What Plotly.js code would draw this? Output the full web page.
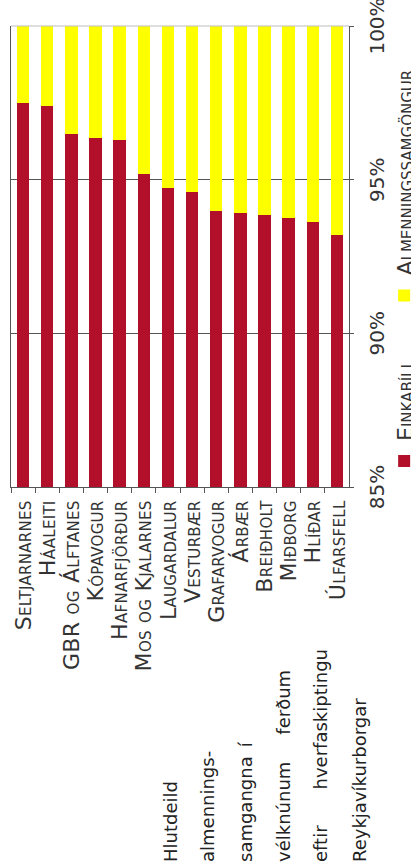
<!DOCTYPE html>
<html>
<head>
<meta charset="utf-8">
<script src="https://cdn.plot.ly/plotly-3.0.1.min.js"></script>
<style>
  html, body { margin:0; padding:0; overflow:hidden; background:#ffffff; width:411px; height:864px; }
  #chart { position:absolute; left:0; top:0; width:864px; height:411px;
           transform-origin:0 0; transform:translate(0px, 864px) rotate(-90deg); }
  #chart .ytick text { letter-spacing:0.3px; }
</style>
</head>
<body>
<div id="chart"></div>
<script>
// ---- data ----
const categories = ['Seltjarnarnes','Háaleiti','GBR og Álftanes','Kópavogur','Hafnarfjörður',
  'Mos og Kjalarnes','Laugardalur','Vesturbær','Grafarvogur','Árbær','Breiðholt','Miðborg','Hlíðar','Úlfarsfell'];
const einkabill = [97.48, 97.41, 96.50, 96.37, 96.30, 95.20, 94.73, 94.60, 93.99, 93.92, 93.85, 93.76, 93.61, 93.19];
const almenningssamgongur = [2.52, 2.59, 3.50, 3.63, 3.70, 4.80, 5.27, 5.40, 6.01, 6.08, 6.15, 6.24, 6.39, 6.81];
const seriesNames = ['Einkabíll', 'Almenningssamgöngur'];
const tickVals = [85, 90, 95, 100];
const tickLabels = ['85%', '90%', '95%', '100%'];
const titleLines = ['Hlutdeild', 'almennings-', 'samgangna\u2002í', 'vélknúnum\u2003\u2002ferðum',
  'eftir\u2003\u2003hverfaskiptingu', 'Reykjavíkurborgar'];

// ---- layout geometry (chart is drawn in its natural landscape frame, then turned by CSS) ----
const W = 864, H = 411, ML = 377, MR = 26, MT = 10.5, MB = 62;
const pw = W - ML - MR, ph = H - MT - MB;
const px2x = X => (X - ML) / pw;
const px2y = Y => (H - MB - Y) / ph;
const titleLineY = [170, 207, 245, 283, 320, 360];

const red = '#B2102A', yellow = '#FFFF00';
const font = 'DejaVu Sans, Verdana, sans-serif';
const legendFont = {family:font, size:22, color:'#333', variant:'small-caps'};

const traces = [
  { type:'bar', orientation:'h', name:seriesNames[0], y:categories, x:einkabill,
    marker:{color:red, line:{width:0}}, hoverinfo:'skip', legend:'legend' },
  { type:'bar', orientation:'h', name:seriesNames[1], y:categories, x:almenningssamgongur,
    marker:{color:yellow, line:{width:0}}, hoverinfo:'skip', legend:'legend2' }
];

const annotations = titleLines.map((t, i) => ({
  text:t, xref:'paper', yref:'paper', x:px2x(0), y:px2y(titleLineY[i]),
  xanchor:'left', yanchor:'middle', showarrow:false, align:'left',
  font:{family:font, size:18, color:'#222'}
}));

const legendBase = {orientation:'h', xanchor:'left', y:px2y(383.4), yanchor:'top',
  itemwidth:30, bgcolor:'rgba(0,0,0,0)', font:legendFont};

const layout = {
  width:W, height:H,
  margin:{l:ML, r:MR, t:MT, b:MB, pad:0, autoexpand:false},
  paper_bgcolor:'#ffffff', plot_bgcolor:'#ffffff',
  barmode:'stack', bargap:0.48,
  showlegend:true,
  legend:Object.assign({}, legendBase, {x:px2x(383)}),
  legend2:Object.assign({}, legendBase, {x:px2x(548.5)}),
  xaxis:{range:[85,100], tickvals:tickVals, ticktext:tickLabels, ticks:'outside', ticklen:4,
    tickcolor:'#555', showline:true, linecolor:'#555', linewidth:1, mirror:true,
    showgrid:true, gridcolor:'#555', gridwidth:1, zeroline:false, fixedrange:true,
    ticklabeloverflow:'allow', ticklabelstandoff:6,
    tickfont:{family:font, size:20, color:'#333'}},
  yaxis:{type:'category', autorange:'reversed', tickmode:'linear', tick0:0, dtick:1,
    ticks:'outside', tickson:'boundaries', ticklen:5,
    tickcolor:'#555', showline:true, linecolor:'#555', linewidth:1, showgrid:false, fixedrange:true,
    ticklabelstandoff:8, ticklabeloverflow:'allow',
    tickfont:{family:font, size:22, color:'#333', variant:'small-caps'}},
  shapes:[{type:'line', xref:'paper', yref:'paper', x0:1, x1:1, y0:0, y1:1,
    line:{color:'#bdbdbd', width:1}, layer:'above'}],
  annotations:annotations
};

Plotly.newPlot('chart', traces, layout, {displayModeBar:false, staticPlot:true});
</script>
</body>
</html>
